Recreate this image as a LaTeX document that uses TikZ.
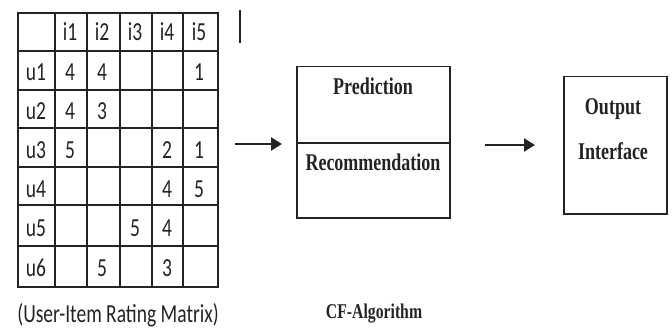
\documentclass[tikz,border=0pt]{standalone}
\usepackage{fontspec}
\usepackage{graphicx}
\setmainfont{Liberation Serif}
\newfontfamily\calib{Carlito}
\usetikzlibrary{arrows.meta}
\newcommand\sqz[1]{\scalebox{0.75}[1]{#1}}
\definecolor{ink}{RGB}{35,35,35}
\begin{document}
\begin{tikzpicture}[x=1pt,y=-1pt,
  gridline/.style={draw=ink,line width=2pt},
  boxline/.style={draw=ink,line width=1.5pt},
  cell/.style={anchor=base,inner sep=0pt,text=ink,font=\calib\fontsize{26}{26}\selectfont},
  boxtxt/.style={anchor=base,inner sep=0pt,text=ink,font=\bfseries\fontsize{24}{24}\selectfont},
  arr/.style={draw=ink,line width=2.4pt,-{Triangle[length=11pt,width=13pt]}}]
\useasboundingbox (0,0) rectangle (672,334);
% table
\node[gridline,minimum width=200pt,minimum height=274pt,inner sep=0pt,anchor=north west] (tbl) at (17,12) {};
\foreach \x in {55,87,120,152,183} \draw[gridline] (\x,12) -- (\x,286);
\foreach \y in {51,90,128,167,205,246} \draw[gridline] (17,\y) -- (217,\y);
% header
\foreach \t/\x [count=\i] in {i1/70,i2/102,i3/135,i4/167,i5/199}
  \node[cell] (h\i) at (\x,41) {\sqz{\t}};
\foreach \t/\y [count=\i] in {u1/81,u2/120,u3/158,u4/197,u5/236,u6/276}
  \node[cell] (r\i) at (36,\y) {\sqz{\t}};
% entries
\foreach \r/\c/\v in {81/70/4,81/102/4,81/199/1,120/70/4,120/102/3,158/70/5,158/167/2,158/199/1,197/167/4,197/199/5,236/135/5,236/167/4,276/102/5,276/167/3}{
  \node[cell] (e\r-\c) at (\c,\r) {\sqz{\v}};
}
\node[cell] (cap) at (118,322) {\sqz{(User-Item Rating Matrix)}};
% stray mark
\coordinate (m1) at (240,10);
\coordinate (m2) at (240,43);
\draw[ink,line width=1.5pt] (m1) -- (m2);
% CF box
\node[boxline,minimum width=153pt,minimum height=151pt,inner sep=0pt,anchor=north west] (cf) at (296,66) {};
\coordinate (divy) at (0,143);
\draw[boxline] (cf.west |- divy) -- (cf.east |- divy);
\node[boxtxt] (pred) at (373,95) {\sqz{Prediction}};
\node[boxtxt] (rec) at (373,171) {\sqz{Recommendation}};
\node[boxtxt,font=\bfseries\fontsize{21}{21}\selectfont] (cfa) at (374,318) {\sqz{CF-Algorithm}};
% output box
\node[boxline,minimum width=103pt,minimum height=137pt,inner sep=0pt,anchor=north west] (out) at (563,76) {};
\node[boxtxt] (o1) at (613,115) {\sqz{Output}};
\node[boxtxt] (o2) at (613,160) {\sqz{Interface}};
% arrows
\coordinate (a1) at (235,144);
\coordinate (a2) at (485,145);
\draw[arr] (a1) -- ([xshift=-14pt]cf.west |- a1);
\draw[arr] (a2) -- ([xshift=-28pt]out.west |- a2);
\end{tikzpicture}
\end{document}
